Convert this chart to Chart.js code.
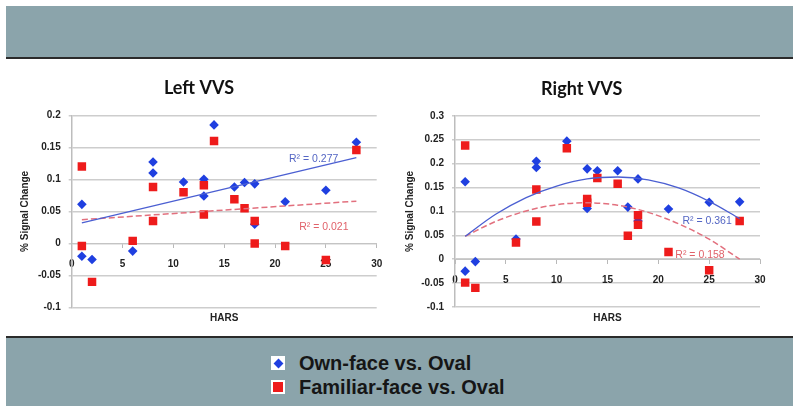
<!DOCTYPE html>
<html><head><meta charset="utf-8">
<script src="https://cdn.jsdelivr.net/npm/chart.js@4.4.1/dist/chart.umd.min.js"></script>
<style>
html,body{margin:0;padding:0;background:#fff;}
body{width:800px;height:414px;position:relative;overflow:hidden;font-family:'Liberation Sans',Arial,sans-serif;}
.band{position:absolute;left:6px;width:787px;background:#8ba4ab;box-sizing:border-box;}
#topband{top:6px;height:53px;border-bottom:2px solid #2b2b2b;}
#botband{top:336px;height:70px;border-top:2px solid #2b2b2b;}
.wrap{position:absolute;top:66px;height:268px;}
#w1{left:10px;width:378px;}
#w2{left:398px;width:370px;}
.lg{position:absolute;left:271px;width:320px;height:22px;}
.ico{position:absolute;left:0;top:4px;width:14px;height:14px;background:#fff;}
.dia{position:absolute;left:3.5px;top:3.5px;width:7px;height:7px;background:#1f3fe0;transform:rotate(45deg);}
.sq{position:absolute;left:2px;top:2px;width:10px;height:10px;background:#ee1b1b;}
.txt{position:absolute;left:28px;top:0;font:bold 20px 'Liberation Sans',Arial,sans-serif;line-height:22px;color:#161616;white-space:nowrap;}
</style></head>
<body>
<div id="topband" class="band"></div>
<div id="w1" class="wrap"><canvas id="c1"></canvas></div>
<div id="w2" class="wrap"><canvas id="c2"></canvas></div>
<div id="botband" class="band"></div>
<div class="lg" style="top:352px"><div class="ico"><div class="dia"></div></div><div class="txt">Own-face vs. Oval</div></div>
<div class="lg" style="top:376px"><div class="ico"><div class="sq"></div></div><div class="txt">Familiar-face vs. Oval</div></div>
<script>
// ---- data ----
const seriesNames = ['Own-face vs. Oval', 'Familiar-face vs. Oval'];
const chartTitles = ['Left VVS', 'Right VVS'];
const xTicks = [0, 5, 10, 15, 20, 25, 30];
const leftYTicks = [-0.1, -0.05, 0, 0.05, 0.1, 0.15, 0.2];
const rightYTicks = [-0.1, -0.05, 0, 0.05, 0.1, 0.15, 0.2, 0.25, 0.3];

const hars = [1, 1, 2, 6, 8, 8, 11, 13, 13, 14, 16, 17, 18, 18, 21, 25, 28];
const leftOwn = [0.061, -0.020, -0.025, -0.012, 0.127, 0.110, 0.096, 0.100, 0.074, 0.185, 0.088, 0.095, 0.093, 0.030, 0.065, 0.083, 0.158];
const leftFam = [0.120, -0.004, -0.060, 0.004, 0.088, 0.035, 0.080, 0.091, 0.045, 0.160, 0.069, 0.055, 0.035, 0.000, -0.004, -0.026, 0.146];
const rightOwn = [0.162, -0.025, -0.005, 0.042, 0.205, 0.192, 0.247, 0.189, 0.106, 0.185, 0.185, 0.109, 0.168, 0.080, 0.105, 0.119, 0.120];
const rightFam = [0.238, -0.049, -0.060, 0.035, 0.146, 0.079, 0.232, 0.126, 0.118, 0.170, 0.158, 0.049, 0.092, 0.072, 0.015, -0.023, 0.080];

// trend lines
const leftFitX = [1, 28];
const leftOwnFit = [0.032, 0.134];
const leftFamFit = [0.037, 0.066];
const rightFitX = [1, 4, 7, 10, 13, 16, 19, 22, 25, 28];
const rightOwnFit = [0.048, 0.094, 0.129, 0.153, 0.168, 0.172, 0.166, 0.149, 0.121, 0.085];
const rightFamFit = [0.048, 0.079, 0.101, 0.114, 0.118, 0.113, 0.098, 0.074, 0.042, 0.000];

const r2Text = ['R² = 0.277', 'R² = 0.021', 'R² = 0.361', 'R² = 0.158'];
const r2X = [23.8, 24.8, 24.8, 24.1];
const r2Y = [0.131, 0.025, 0.080, 0.008];

// ---- styles ----
const BLUE = '#1f3fe0', RED = '#ee1b1b';
const BLUE_LINE = '#4b5fd2', RED_LINE = '#e2707e';
const BLUE_TXT = '#5466c4', RED_TXT = '#e0626a';
const TICK_FONT = {family: "'Liberation Sans', Arial, sans-serif", size: 10, weight: 'bold'};

const pts = (xs, ys) => xs.map((x, i) => ({x: x, y: ys[i]}));

const r2Plugin = {
  id: 'r2labels',
  afterDatasetsDraw(chart, args, opts) {
    const ctx = chart.ctx, xs = chart.scales.x, ys = chart.scales.y;
    ctx.save();
    ctx.font = "10.5px 'Liberation Sans', Arial, sans-serif";
    ctx.textAlign = 'center';
    ctx.textBaseline = 'middle';
    opts.items.forEach(it => {
      ctx.fillStyle = it.color;
      ctx.fillText(it.text, xs.getPixelForValue(it.x), ys.getPixelForValue(it.y));
    });
    ctx.restore();
  }
};

function makeChart(id, o) {
  return new Chart(document.getElementById(id), {
    type: 'scatter',
    data: {
      datasets: [
        {label: seriesNames[0] + ' trend', data: pts(o.fitX, o.ownFit), showLine: true, borderColor: BLUE_LINE,
         borderWidth: 1.3, pointRadius: 0, cubicInterpolationMode: 'monotone', fill: false},
        {label: seriesNames[1] + ' trend', data: pts(o.fitX, o.famFit), showLine: true, borderColor: RED_LINE,
         borderWidth: 1.5, borderDash: [6, 3], pointRadius: 0, cubicInterpolationMode: 'monotone', fill: false},
        {label: seriesNames[1], data: pts(hars, o.fam), pointStyle: 'rect', pointRadius: 6,
         backgroundColor: RED, borderWidth: 0},
        {label: seriesNames[0], data: pts(hars, o.own), pointStyle: 'rectRot', pointRadius: 4.8,
         backgroundColor: BLUE, borderWidth: 0}
      ]
    },
    options: {
      responsive: true, maintainAspectRatio: false, animation: false, devicePixelRatio: 1,
      layout: {padding: {left: o.pl, right: o.pr, top: 0, bottom: 0}},
      scales: {
        x: {
          type: 'linear', position: {y: 0}, min: xTicks[0], max: xTicks[xTicks.length - 1],
          afterBuildTicks: s => { s.ticks = xTicks.map(v => ({value: v})); },
          afterFit: s => { s.height = 0; s.paddingLeft = 0; s.paddingRight = 0; },
          grid: {drawOnChartArea: false, drawTicks: true, tickLength: 4, color: '#b9b9b9'},
          border: {display: true, color: '#c4c4c4', width: 1},
          ticks: {font: TICK_FONT, color: '#222', padding: 11, maxRotation: 0}
        },
        y: {
          type: 'linear', position: 'left', min: o.yTicks[0], max: o.yTicks[o.yTicks.length - 1],
          afterBuildTicks: s => { s.ticks = o.yTicks.map(v => ({value: v})); },
          afterFit: s => { s.width = o.yw; },
          grid: {color: '#cdcdcd', lineWidth: 1.5, drawTicks: true, tickLength: 3},
          border: {display: true, color: '#bdbdbd', width: 1.5},
          ticks: {font: TICK_FONT, color: '#222', padding: 8,
                  callback: v => String(Number(Number(v).toFixed(2)))},
          title: {display: true, text: '% Signal Change', color: '#222',
                  font: {family: "'Liberation Sans', Arial, sans-serif", size: 10, weight: 'bold'},
                  padding: {top: o.ytp, bottom: 0}}
        }
      },
      plugins: {
        legend: {display: false},
        tooltip: {enabled: false},
        title: {display: true, text: o.title, color: '#111',
                font: {family: "Lato, 'Liberation Sans', Arial, sans-serif", size: 18, weight: 'bold'},
                padding: {top: o.tpt, bottom: o.tpb}},
        subtitle: {display: true, text: 'HARS', position: 'bottom', fullSize: false, color: '#222',
                   font: {family: "'Liberation Sans', Arial, sans-serif", size: 10, weight: 'bold'},
                   padding: {top: o.spt, bottom: o.spb}},
        r2labels: {items: o.r2}
      }
    },
    plugins: [r2Plugin]
  });
}

makeChart('c1', {
  title: chartTitles[0], own: leftOwn, fam: leftFam, fitX: leftFitX, ownFit: leftOwnFit, famFit: leftFamFit,
  yTicks: leftYTicks, pl: 11.3, pr: 11.3, yw: 50.4, ytp: -2.3, tpt: 11.5, tpb: 16.2, spt: 5.2, spb: 9.3,
  r2: [{text: r2Text[0], x: r2X[0], y: r2Y[0], color: BLUE_TXT}, {text: r2Text[1], x: r2X[1], y: r2Y[1], color: RED_TXT}]
});
makeChart('c2', {
  title: chartTitles[1], own: rightOwn, fam: rightFam, fitX: rightFitX, ownFit: rightOwnFit, famFit: rightFamFit,
  yTicks: rightYTicks, pl: 5.4, pr: 8, yw: 51.6, ytp: 0.6, tpt: 12.3, tpb: 15.9, spt: 5.3, spb: 9.7,
  r2: [{text: r2Text[2], x: r2X[2], y: r2Y[2], color: BLUE_TXT}, {text: r2Text[3], x: r2X[3], y: r2Y[3], color: RED_TXT}]
});
</script>
</body></html>
